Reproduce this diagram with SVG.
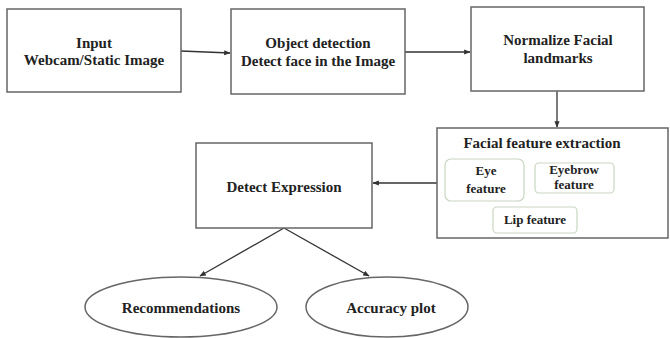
<svg xmlns="http://www.w3.org/2000/svg" width="670" height="338" viewBox="0 0 670 338">
<style>
.box{fill:#fff;stroke:#666;stroke-width:1.5}
.feat{fill:#fff;stroke:#c9d6c2;stroke-width:1.2}
.t{font-family:"Liberation Serif","Times New Roman",serif;font-weight:bold;font-size:15px;fill:#222;text-anchor:middle}
.s{font-size:13px}
.c{stroke:#333;stroke-width:1.3;fill:none}
</style>
<defs>
<marker id="ah" viewBox="0 0 10 10" refX="9" refY="5" markerWidth="5" markerHeight="5" orient="auto">
<path d="M0,1 L10,5 L0,9 z" fill="#333"/>
</marker>
</defs>
<rect width="670" height="338" fill="#fff"/>
<g id="connectors">
<line class="c" x1="181" y1="51" x2="230" y2="53" marker-end="url(#ah)"/>
<line class="c" x1="405" y1="52" x2="470" y2="52" marker-end="url(#ah)"/>
<line class="c" x1="557" y1="91" x2="557" y2="127" marker-end="url(#ah)"/>
<line class="c" x1="437" y1="183" x2="373" y2="183" marker-end="url(#ah)"/>
<line class="c" x1="284" y1="228" x2="200" y2="276" marker-end="url(#ah)"/>
<line class="c" x1="284" y1="228" x2="369" y2="276" marker-end="url(#ah)"/>
</g>
<g id="input">
<rect class="box" x="7" y="9" width="174" height="83"/>
<text class="t" x="94" y="48">Input</text>
<text class="t" x="94" y="65">Webcam/Static Image</text>
</g>
<g id="object-detection">
<rect class="box" x="231" y="9" width="174" height="85"/>
<text class="t" x="318" y="48">Object detection</text>
<text class="t" x="318" y="66">Detect face in the Image</text>
</g>
<g id="normalize">
<rect class="box" x="471" y="7" width="173" height="84"/>
<text class="t" x="558" y="45">Normalize Facial</text>
<text class="t" x="558" y="63">landmarks</text>
</g>
<g id="feature-extraction">
<rect class="box" x="437" y="128" width="231" height="110"/>
<text class="t" x="542" y="148">Facial feature extraction</text>
<g id="eye-feature">
<rect class="feat" x="445" y="159" width="79" height="42" rx="6"/>
<text class="t s" x="486" y="175">Eye</text>
<text class="t s" x="486" y="193">feature</text>
</g>
<g id="eyebrow-feature">
<rect class="feat" x="535" y="163" width="79" height="30" rx="4"/>
<text class="t s" x="574" y="174">Eyebrow</text>
<text class="t s" x="574" y="189">feature</text>
</g>
<g id="lip-feature">
<rect class="feat" x="493" y="207" width="84" height="26" rx="4"/>
<text class="t s" x="535" y="224">Lip feature</text>
</g>
</g>
<g id="detect-expression">
<rect class="box" x="196" y="143" width="176" height="85"/>
<text class="t" x="284" y="192">Detect Expression</text>
</g>
<g id="recommendations">
<ellipse class="box" cx="181" cy="307" rx="96" ry="30"/>
<text class="t" x="181" y="313">Recommendations</text>
</g>
<g id="accuracy-plot">
<ellipse class="box" cx="387" cy="307" rx="81" ry="30"/>
<text class="t" x="391" y="313">Accuracy plot</text>
</g>
</svg>
